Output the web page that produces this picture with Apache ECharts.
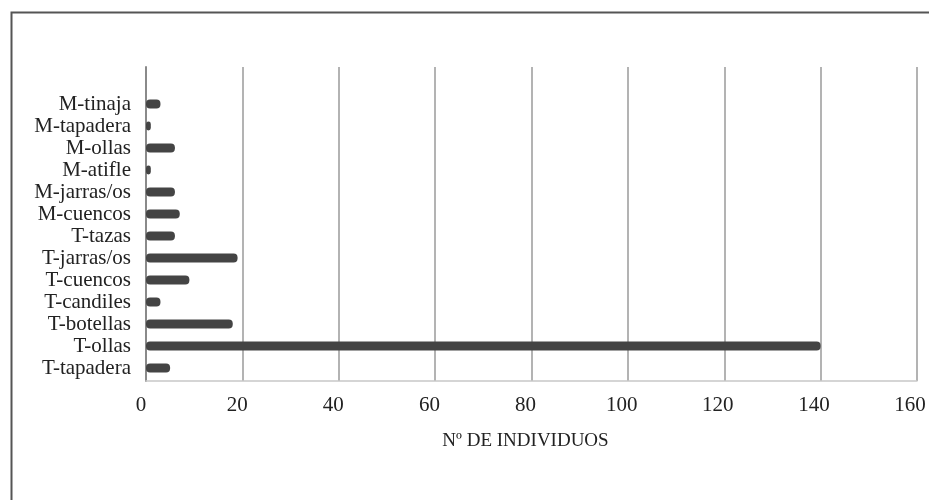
<!DOCTYPE html>
<html>
<head>
<meta charset="utf-8">
<script src="https://cdn.jsdelivr.net/npm/echarts@6/dist/echarts.min.js"></script>
<style>html,body{margin:0;padding:0;background:#fff;}#c{width:929px;height:500px;}</style>
</head>
<body>
<div id="c"></div>
<script>
const categories = ['T-tapadera','T-ollas','T-botellas','T-candiles','T-cuencos','T-jarras/os','T-tazas','M-cuencos','M-jarras/os','M-atifle','M-ollas','M-tapadera','M-tinaja'];
const values = [5, 140, 18, 3, 9, 19, 6, 7, 6, 1, 6, 1, 3];
const xTicks = [0, 20, 40, 60, 80, 100, 120, 140, 160];
const axisName = 'Nº DE INDIVIDUOS';

const font = '"Liberation Serif", "Times New Roman", serif';
const chart = echarts.init(document.getElementById('c'));
chart.setOption({
  animation: false,
  backgroundColor: '#fff',
  graphic: [{
    type: 'rect', left: 9, top: 10, shape: {width: 960, height: 520},
    style: {fill: 'none', stroke: '#555', lineWidth: 2}
  }],
  grid: [
    {left: 146, right: 12, top: 67, bottom: 119},
    {left: 146, right: 12, top: 93, bottom: 121},
    {left: 141, right: 19, top: 67, bottom: 119}
  ],
  xAxis: [
    {gridIndex: 0, type: 'value', min: xTicks[0], max: xTicks[xTicks.length-1], interval: 20,
     axisLabel: {show: false}, axisTick: {show: false},
     axisLine: {show: true, lineStyle: {color: '#c8c8c8', width: 1.5}},
     splitLine: {show: true, lineStyle: {color: '#9a9a9a', width: 1.5}}},
    {gridIndex: 1, type: 'value', min: xTicks[0], max: xTicks[xTicks.length-1], show: false},
    {gridIndex: 2, type: 'value', min: xTicks[0], max: xTicks[xTicks.length-1], interval: 20,
     axisLine: {show: false}, axisTick: {show: false}, splitLine: {show: false},
     axisLabel: {color: '#222', fontFamily: font, fontSize: 21, margin: 14},
     name: axisName, nameLocation: 'middle', nameGap: 51,
     nameTextStyle: {color: '#222', fontFamily: font, fontSize: 19}}
  ],
  yAxis: [
    {gridIndex: 0, type: 'value', min: 0, max: 1, axisLabel: {show: false}, axisTick: {show: false},
     splitLine: {show: false}, axisLine: {show: true, lineStyle: {color: '#8a8a8a', width: 2}}},
    {gridIndex: 1, type: 'category', data: categories, boundaryGap: true,
     axisLine: {show: false}, axisTick: {show: false}, splitLine: {show: false},
     axisLabel: {color: '#222', fontFamily: font, fontSize: 21, lineHeight: 21, margin: 15, interval: 0, hideOverlap: false}},
    {gridIndex: 2, type: 'value', min: 0, max: 1, show: false}
  ],
  series: [{
    type: 'bar', xAxisIndex: 1, yAxisIndex: 1, data: values,
    barWidth: 9,
    itemStyle: {color: '#444', borderRadius: 4}
  }]
});
</script>
</body>
</html>
